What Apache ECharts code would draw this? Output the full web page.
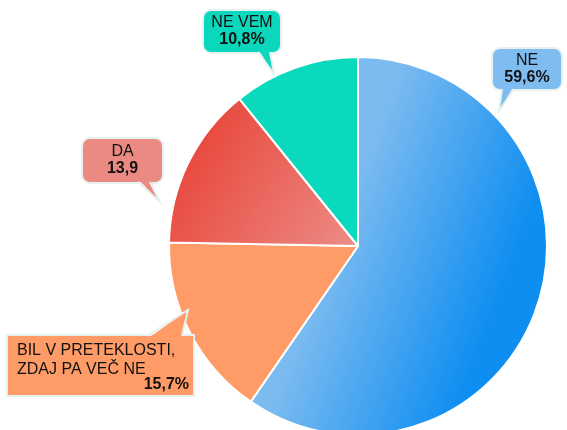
<!DOCTYPE html>
<html>
<head>
<meta charset="utf-8">
<script src="https://cdn.jsdelivr.net/npm/echarts@6/dist/echarts.min.js"></script>
<style>
    html, body { margin: 0; background: #fff; }
    #main { width: 567px; height: 430px; }
</style>
</head>
<body>
<div id="main"></div>
<script>
// podatki
const categories = ['NE', 'BIL V PRETEKLOSTI, ZDAJ PA VEČ NE', 'DA', 'NE VEM']
const values = [59.6, 15.7, 13.9, 10.8]
const valueLabels = ['59,6%', '15,7%', '13,9', '10,8%']

// barve rezin
const sliceColors = [
    new echarts.graphic.LinearGradient(0, 0, 1, 0.3, [
        { offset: 0, color: '#80bdf0' },
        { offset: 0.45, color: '#7cbbf0' },
        { offset: 1, color: '#0f8ef1' }
    ]),
    '#fe9b66',
    new echarts.graphic.LinearGradient(0, 0.2, 1, 1, [
        { offset: 0, color: '#e83f33' },
        { offset: 1, color: '#ec8d87' }
    ]),
    '#0bd9be'
]
const boxColors = ['#7fbdf0', '#fe9b66', '#eb8a83', '#0bd7bc']

// okvirji oznak (položaj, velikost, konica)
const boxes = [
    { x: 493, y: 49, w: 68, h: 40, r: 7, pad: [3, 4], tail: [[502, 514], [499, 111]] },
    { x: 8, y: 336, w: 185, h: 59, r: 0, pad: [5, 4, 5, 9], tail: [[147, 182], [188, 310]] },
    { x: 83, y: 139, w: 79, h: 43, r: 7, pad: [4, 4], tail: [[138, 150], [160, 202]] },
    { x: 204, y: 11, w: 76, h: 41, r: 7, pad: [3, 4], tail: [[258, 270], [274, 74]] }
]

const borderCol = '#e6f2ef'

function padOf(p) {
    return p.length === 2 ? [p[0], p[1], p[0], p[1]] : p
}

let myChart = echarts.init(document.getElementById('main'))

const data = values.map((v, i) => {
    const b = boxes[i]
    const p = padOf(b.pad)
    let fmt
    if (i === 1) {
        fmt = '{t|BIL V PRETEKLOSTI,}\n{t|ZDAJ PA VEČ NE}\n{v|' + valueLabels[i] + '}'
    } else {
        fmt = '{n|' + categories[i] + '}\n{v|' + valueLabels[i] + '}'
    }
    return {
        name: categories[i],
        value: v,
        itemStyle: { color: sliceColors[i] },
        label: {
            formatter: fmt,
            backgroundColor: boxColors[i],
            borderColor: borderCol,
            borderWidth: 2,
            borderRadius: b.r,
            padding: p,
            width: b.w - p[1] - p[3],
            height: b.h - p[0] - p[2],
            align: i === 1 ? 'left' : 'center'
        }
    }
})

// vrednost pri oznaki BIL desno poravnana
data[1].label.rich = {
    t: { fontSize: 16, lineHeight: 19, color: '#111', align: 'left' },
    v: { fontSize: 16, lineHeight: 11, fontWeight: 'bold', color: '#111', align: 'right' }
}

// konice oblačkov
const tails = []
boxes.forEach((b, i) => {
    const top = b.tail[1][1] < b.y
    const baseY = top ? b.y : b.y + b.h
    const inY = top ? baseY + 3 : baseY - 3
    const tip = b.tail[1]
    tails.push({
        type: 'polygon',
        z: 100,
        shape: { points: [[b.tail[0][0], inY], [b.tail[0][1], inY], tip] },
        style: { fill: boxColors[i] }
    })
    tails.push({
        type: 'polyline',
        z: 101,
        shape: { points: [[b.tail[0][0], baseY], tip, [b.tail[0][1], baseY]] },
        style: { stroke: borderCol, lineWidth: 2, fill: null }
    })
})

let option = {
    backgroundColor: '#fff',
    textStyle: { fontFamily: 'Liberation Sans, Arial, sans-serif' },
    graphic: tails,
    series: [
        {
            type: 'pie',
            z: 2,
            center: [358, 246],
            radius: 189,
            startAngle: 90,
            clockwise: true,
            avoidLabelOverlap: false,
            silent: true,
            animation: false,
            itemStyle: { borderColor: '#fff', borderWidth: 2 },
            label: {
                show: true,
                position: 'outside',
                color: '#111',
                fontFamily: 'Liberation Sans, Arial, sans-serif',
                rich: {
                    n: { fontSize: 16, lineHeight: 17, color: '#111' },
                    v: { fontSize: 16, lineHeight: 17, fontWeight: 'bold', color: '#111' }
                }
            },
            labelLine: { show: false },
            labelLayout: function (params) {
                const b = boxes[params.dataIndex]
                if (params.dataIndex === 1) {
                    return { x: b.x, y: b.y, align: 'left', verticalAlign: 'top' }
                }
                return { x: b.x + b.w / 2, y: b.y, align: 'center', verticalAlign: 'top' }
            },
            data: data
        }
    ]
}

myChart.setOption(option)
</script>
</body>
</html>
